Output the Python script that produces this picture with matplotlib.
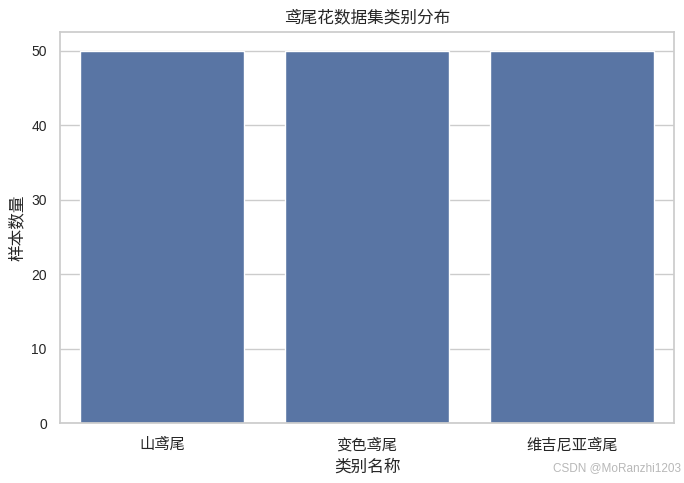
import matplotlib
matplotlib.use("Agg")
import matplotlib.pyplot as plt
import seaborn as sns

categories = ["山鸢尾", "变色鸢尾", "维吉尼亚鸢尾"]
counts = [50, 50, 50]
yticks = [0, 10, 20, 30, 40, 50]

sns.set_theme(style="whitegrid")
plt.rcParams['font.family'] = ['Noto Sans CJK SC', 'DejaVu Sans']
plt.rcParams['axes.unicode_minus'] = False

fig = plt.figure(figsize=(6.84, 4.83), dpi=100)
ax = fig.add_axes([0.0877, 0.1242, 0.8977, 0.8095])
sns.barplot(x=categories, y=counts, ax=ax, color=sns.color_palette("deep")[0], saturation=0.75)
ax.set_xlim(-0.5, 2.5)
ax.set_ylim(0, 52.5)
ax.set_yticks(yticks)
ax.set_yticklabels([str(t) for t in yticks], family=['Liberation Sans', 'DejaVu Sans'], fontsize=10)
ax.tick_params(axis='x', labelsize=11)
ax.set_title("鸢尾花数据集类别分布", fontsize=12, pad=7)
ax.set_xlabel("类别名称", fontsize=12, labelpad=4)
ax.set_ylabel("样本数量", fontsize=12, labelpad=4)
ax.grid(axis='x', visible=False)
fig.text(0.996, 0.031, "CSDN @MoRanzhi1203", ha='right', va='center', fontsize=8.5, color='#b8b8b8',
         family=['Liberation Sans Narrow', 'Liberation Sans', 'DejaVu Sans'])
fig.savefig("out.png", dpi=100)
